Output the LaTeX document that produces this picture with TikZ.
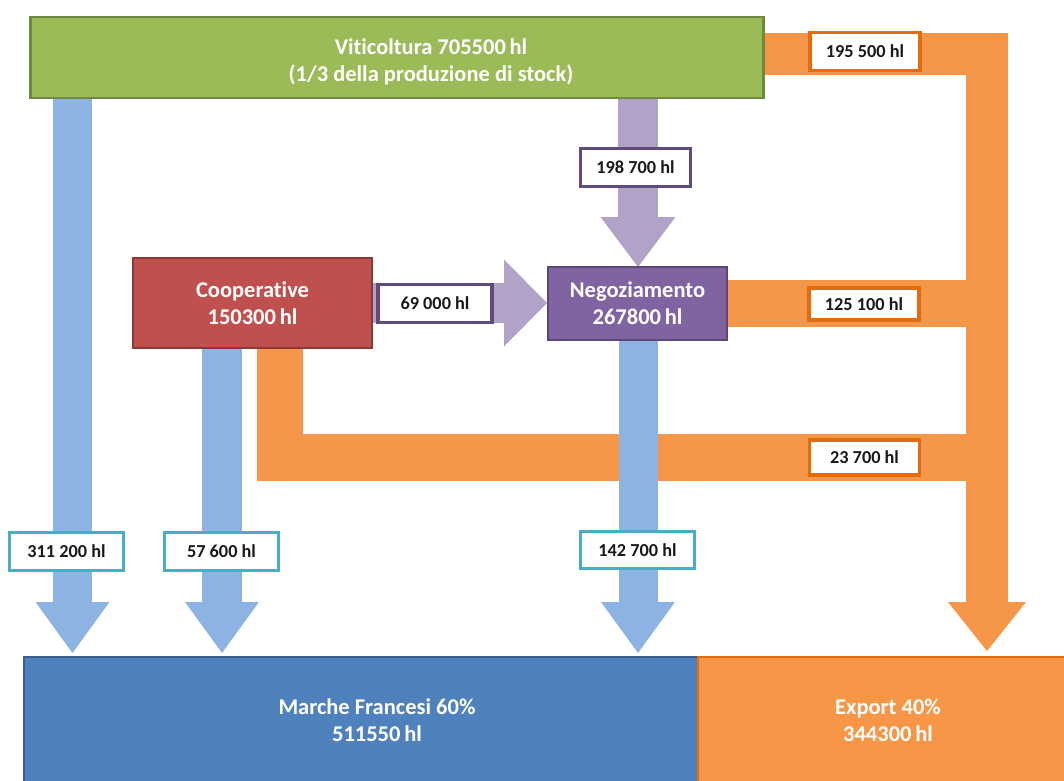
\documentclass[tikz,border=0pt]{standalone}
\usepackage{fontspec}
\setmainfont{Carlito}[Ligatures=CommonOff]
\usetikzlibrary{positioning,calc,backgrounds}
\definecolor{vitgreen}{HTML}{9BBB59}
\definecolor{vitgreenD}{HTML}{71893F}
\definecolor{coopred}{HTML}{C0504D}
\definecolor{coopredD}{HTML}{8C3836}
\definecolor{negpurple}{HTML}{8064A2}
\definecolor{negpurpleD}{HTML}{5C4776}
\definecolor{frblue}{HTML}{4F81BD}
\definecolor{frblueD}{HTML}{385D8A}
\definecolor{exorange}{HTML}{F79646}
\definecolor{exorangeD}{HTML}{E46C0A}
\definecolor{flowblue}{HTML}{8DB3E2}
\definecolor{flowpurple}{HTML}{B3A2C7}
\definecolor{floworange}{HTML}{F59649}
\definecolor{qteal}{HTML}{4BACC6}
\definecolor{qorange}{HTML}{E46C0A}
\definecolor{qpurple}{HTML}{604A7B}
\tikzset{
  stage/.style={draw, line width=2pt, inner sep=0pt, text=white,
    font=\bfseries\fontsize{16}{19}\selectfont, align=center},
  stagetext/.style={text=white, inner sep=0pt,
    font=\bfseries\fontsize{16}{19}\selectfont, align=center},
  qty/.style={draw, fill=white, line width=2.2pt, minimum width=2.75cm,
    minimum height=0.93cm, inner sep=0pt, text=black!90,
    font=\bfseries\fontsize{13}{15}\selectfont},
  blueflow/.style={color=flowblue, line width=0.975cm},
  purpleflow/.style={color=flowpurple, line width=1cm},
  orangeflow/.style={color=floworange, line width=1.05cm}
}
\begin{document}
\begin{tikzpicture}[x=0.025cm, y=-0.025cm]
    \clip (0,0) rectangle (1064,781);

    % boxes
    \node[stage, fill=vitgreen, draw=vitgreenD, minimum width=18.3cm,
      minimum height=2.025cm] (vit) at (397,57.5) {};
    \node[stagetext] (vittxt) at (431,62)
      {Viticoltura 705500\,hl\\(1/3 della produzione di stock)};
    \node[stage, fill=coopred, draw=coopredD, minimum width=5.975cm,
      minimum height=2.25cm] (coop) at (252.5,303) {Cooperative\\150300\,hl};
    \node[stage, fill=negpurple, draw=negpurpleD, minimum width=4.475cm,
      minimum height=1.825cm] (negoz) at (637.5,303.5) {Negoziamento\\267800\,hl};
    \node[stage, fill=frblue, draw=frblueD, minimum width=16.85cm,
      minimum height=3.575cm] (marche) at (361,728.5) {};
    \node[stage, fill=exorange, draw=exorangeD, minimum width=9.55cm,
      minimum height=3.575cm] (export) at (889,728.5) {};
    \node[stagetext] (marchetxt) at (377,720) {Marche Francesi 60\%\\511550\,hl};
    \node[stagetext] (exporttxt) at (888,720) {Export 40\%\\344300\,hl};

    % arrow heads and corners
    \coordinate (bl) at (72.5,602);
    \coordinate (bc) at (222,602);
    \coordinate (bn) at (638,602);
    \coordinate (or) at (987,602);
    \coordinate (ot) at (987,54);
    \coordinate (on) at (987,303.5);
    \coordinate (ocor) at (280,457.5);
    \coordinate (oc) at (987,457.5);
    \coordinate (pd) at (638,217);
    \coordinate (ph) at (504,303);

    \begin{scope}[on background layer]
      % export flows
      \draw[orangeflow] (vit.east |- ot) -- (ot) -- (or);
      \draw[orangeflow, line width=1.175cm] (negoz.east |- on) -- (on);
      \draw[orangeflow, line width=1.15cm] (coop.south -| ocor) -- (ocor) -- (oc);
      \fill[orangeflow] (or) ++(-39,0) -- ++(78,0) -- ++(-39,49) -- cycle;

      % french flows
      \draw[blueflow] (vit.south -| bl) -- (bl);
      \draw[blueflow] (coop.south -| bc) -- (bc);
      \draw[blueflow] (negoz.south -| bn) -- (bn);
      \fill[blueflow] (bl) ++(-37,0) -- ++(74,0) -- ++(-37,51) -- cycle;
      \fill[blueflow] (bc) ++(-37,0) -- ++(74,0) -- ++(-37,51) -- cycle;
      \fill[blueflow] (bn) ++(-37,0) -- ++(74,0) -- ++(-37,51) -- cycle;

      % to negoziamento
      \draw[purpleflow] (vit.south -| pd) -- (pd);
      \fill[purpleflow] (pd) ++(-37.5,0) -- ++(75,0) -- ++(-37.5,50) -- cycle;
      \draw[purpleflow] (coop.east |- ph) -- (ph);
      \fill[purpleflow] (ph) ++(0,-43.5) -- ++(0,87) -- ++(43,-43.5) -- cycle;
    \end{scope}

    % quantities
    \node[qty, draw=qorange] (q1) at (865,51.5) {195 500 hl};
    \node[qty, draw=qpurple] (q2) at (635.5,167.5) {198 700 hl};
    \node[qty, draw=qpurple, minimum width=2.85cm] (q3) at (435,303.5) {69 000 hl};
    \node[qty, draw=qorange, minimum height=0.8cm] (q4) at (864,304) {125 100 hl};
    \node[qty, draw=qorange, minimum height=0.875cm] (q5) at (864.5,457.5) {23 700 hl};
    \node[qty, draw=qteal, minimum width=2.83cm] (q6) at (66.5,551.5) {311 200 hl};
    \node[qty, draw=qteal, minimum width=2.83cm] (q7) at (221.5,551.5) {57 600 hl};
    \node[qty, draw=qteal, minimum width=2.83cm] (q8) at (637.5,550) {142 700 hl};
  \end{tikzpicture}
\end{document}
